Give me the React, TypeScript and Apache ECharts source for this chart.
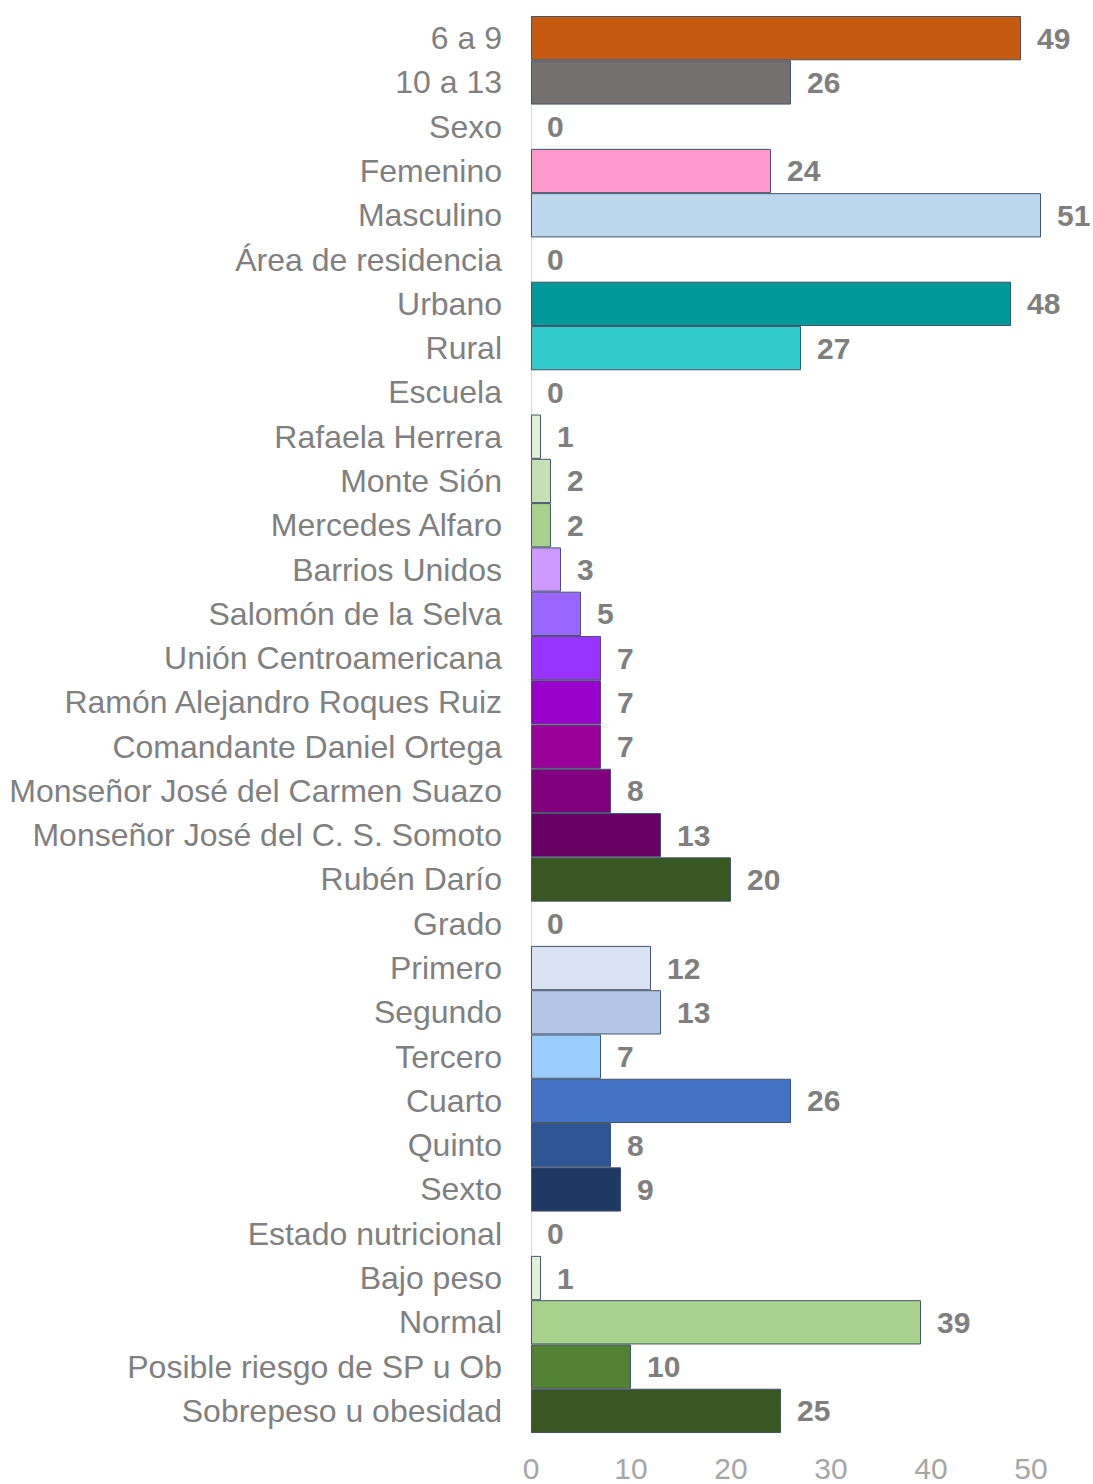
import React, { useEffect, useRef } from "react";
import * as echarts from "echarts";

const categories = [
  "6 a 9", "10 a 13", "Sexo", "Femenino", "Masculino", "Área de residencia", "Urbano", "Rural",
  "Escuela", "Rafaela Herrera", "Monte Sión", "Mercedes Alfaro", "Barrios Unidos", "Salomón de la Selva",
  "Unión Centroamericana", "Ramón Alejandro Roques Ruiz", "Comandante Daniel Ortega",
  "Monseñor José del Carmen Suazo", "Monseñor José del C. S. Somoto", "Rubén Darío",
  "Grado", "Primero", "Segundo", "Tercero", "Cuarto", "Quinto", "Sexto",
  "Estado nutricional", "Bajo peso", "Normal", "Posible riesgo de SP u Ob", "Sobrepeso u obesidad",
];

const values = [49, 26, 0, 24, 51, 0, 48, 27, 0, 1, 2, 2, 3, 5, 7, 7, 7, 8, 13, 20, 0, 12, 13, 7, 26, 8, 9, 0, 1, 39, 10, 25];

const colors = [
  "#C55A11", "#767171", "#FFFFFF", "#FF99CC", "#BDD7EE", "#FFFFFF", "#009999", "#33CCCC",
  "#FFFFFF", "#E2F0D9", "#C5E0B4", "#A9D18E", "#CC99FF", "#9966FF", "#9933FF", "#9900CC", "#990099",
  "#800080", "#660066", "#385723", "#FFFFFF", "#DAE3F3", "#B4C7E7", "#99CCFF", "#4472C4", "#2F5597",
  "#203864", "#FFFFFF", "#E2F0D9", "#A9D18E", "#548235", "#385723",
];

const xTicks = { min: 0, max: 55, interval: 10 };

const FONT = "Liberation Sans, Arial, sans-serif";

export default function App() {
  const ref = useRef<HTMLDivElement>(null);
  useEffect(() => {
    if (!ref.current) return;
    const chart = echarts.init(ref.current, null, { renderer: "svg" });
    chart.setOption({
      animation: false,
      grid: { left: 531, top: 16, bottom: 51, right: 12, containLabel: false },
      xAxis: {
        type: "value",
        min: xTicks.min,
        max: xTicks.max,
        interval: xTicks.interval,
        axisLine: { show: false },
        axisTick: { show: false },
        splitLine: { show: false },
        axisLabel: {
          color: "#A6A6A6",
          fontSize: 30,
          fontFamily: FONT,
          margin: 20,
          showMaxLabel: false,
        },
      },
      yAxis: {
        type: "category",
        inverse: true,
        data: categories,
        axisLine: { show: true, lineStyle: { color: "#D9D9D9", width: 1 } },
        axisTick: { show: false },
        axisLabel: {
          color: "#808080",
          fontSize: 32,
          fontFamily: FONT,
          margin: 29,
        },
      },
      series: [
        {
          type: "bar",
          barCategoryGap: "0%",
          data: values.map((v, i) => ({
            value: v,
            itemStyle: {
              color: colors[i],
              borderColor: "#44546A",
              borderWidth: v === 0 ? 0 : 1,
            },
          })),
          label: {
            show: true,
            position: "right",
            distance: 16,
            color: "#7F7F7F",
            fontSize: 30,
            fontWeight: "bold",
            fontFamily: FONT,
          },
        },
      ],
    });
    return () => chart.dispose();
  }, []);
  return (
    <div
      ref={ref}
      style={{ position: "absolute", left: 0, top: 0, width: 1093, height: 1484 }}
    />
  );
}
